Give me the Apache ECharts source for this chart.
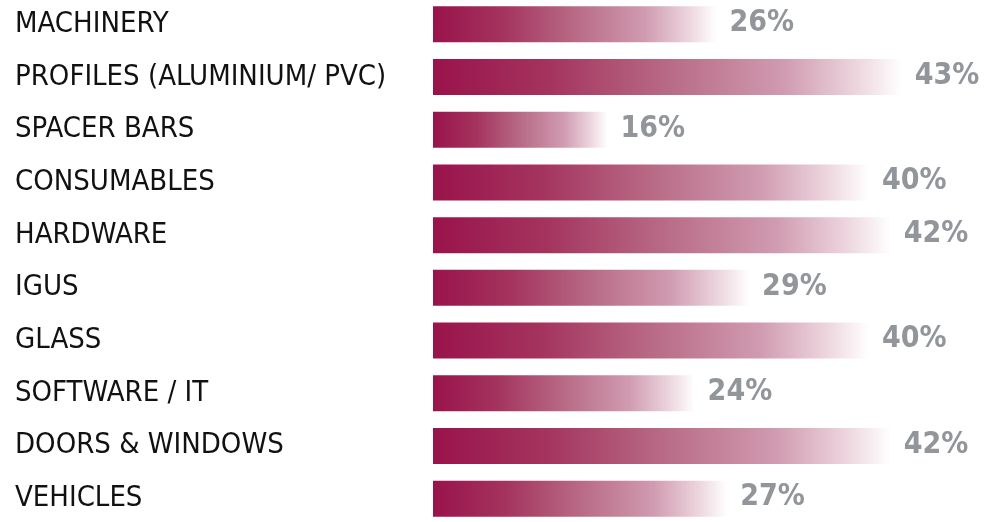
<!DOCTYPE html>
<html>
<head>
<meta charset="utf-8">
<script src="https://cdn.jsdelivr.net/npm/echarts@6/dist/echarts.min.js"></script>
<style>
  html, body { margin: 0; padding: 0; background: #fff; overflow: hidden; }
  #main { width: 1007px; height: 527px; margin-top: -2px; }
</style>
</head>
<body>
<div id="main"></div>
<script>
// 类目和数值
var categories = ['MACHINERY', 'PROFILES (ALUMINIUM/ PVC)', 'SPACER BARS', 'CONSUMABLES', 'HARDWARE',
    'IGUS', 'GLASS', 'SOFTWARE / IT', 'DOORS & WINDOWS', 'VEHICLES'];
var values = [26, 43, 16, 40, 42, 29, 40, 24, 42, 27];

var chart = echarts.init(document.getElementById('main'));

var narrowFont = '"DejaVu Sans Condensed", "Liberation Sans Narrow", sans-serif';

// 每根柱子自己的渐变（左深右白）
var barGradient = new echarts.graphic.LinearGradient(0, 0, 1, 0, [
    { offset: 0, color: '#99134b' },
    { offset: 0.25, color: '#a4345e' },
    { offset: 0.5, color: '#b86a85' },
    { offset: 0.75, color: '#d09bb0' },
    { offset: 0.9, color: '#ecd4dd' },
    { offset: 1, color: '#ffffff' }
]);

var option = {
    animation: false,
    grid: {
        left: 433,
        right: 29,
        top: 0,
        bottom: 0,
        containLabel: false
    },
    xAxis: {
        type: 'value',
        min: 0,
        max: 50,
        show: false
    },
    yAxis: {
        type: 'category',
        data: categories,
        inverse: true,
        axisLine: { show: false },
        axisTick: { show: false },
        splitLine: { show: false },
        axisLabel: {
            align: 'left',
            margin: 418,
            padding: [4, 0, 0, 0],
            color: '#111111',
            fontFamily: narrowFont,
            fontSize: 29
        }
    },
    series: [{
        type: 'bar',
        data: values,
        barWidth: 36,
        itemStyle: { color: barGradient },
        label: {
            show: true,
            position: 'right',
            distance: 13,
            offset: [0, -1],
            formatter: '{c}%',
            color: '#929599',
            fontFamily: narrowFont,
            fontWeight: 'bold',
            fontSize: 30
        }
    }]
};

chart.setOption(option);
</script>
</body>
</html>
